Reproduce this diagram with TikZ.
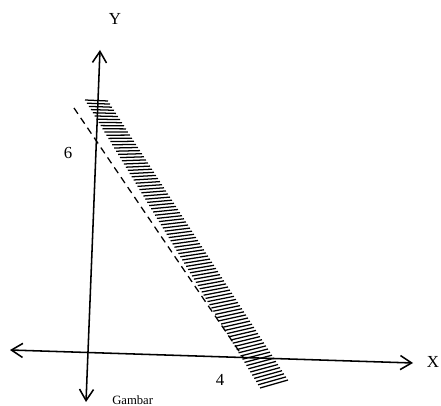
\documentclass[tikz,border=0pt]{standalone}
\usepackage{fontspec}
\setmainfont{Liberation Serif}
\usepackage{tikz}
\usetikzlibrary{arrows.meta, calc}
\tikzset{
  axis/.style={line width=1.1pt,
    {Straight Barb[length=8pt, width=10pt]}-{Straight Barb[length=8pt, width=10pt]}},
  bound/.style={line width=0.9pt, dash pattern=on 5pt off 3.5pt},
  hatch/.style={line width=0.9pt},
  lbl/.style={font=\large, inner sep=0pt},
}
\begin{document}
\begin{tikzpicture}[x=0.025cm, y=-0.025cm]
\useasboundingbox (0,0) rectangle (441,406);

% axes
\coordinate (xl) at (10,350);
\coordinate (xr) at (413,363);
\coordinate (yb) at (86,402);
\coordinate (yt) at (100,50);
\draw[axis] (xl) -- (xr);
\draw[axis] (yb) -- (yt);

\node[lbl] (ylab) at (115,19) {Y};
\node[lbl] (xlab) at (433,362) {X};
\node[lbl] (six) at (68,153) {6};
\node[lbl] (four) at (220,380) {4};
\node[lbl, font=\small, anchor=south west] (cap) at (112,405) {Gambar};

% boundary line
\coordinate (d1) at (74,108);
\coordinate (d2) at (243,357);
\draw[bound] (d1) -- (d2);

% hatched band
\coordinate (hTL) at (85,100);
\coordinate (hBL) at (260,388);
\coordinate (hTR) at (108,101);
\coordinate (hBR) at (288,380);
\foreach \i in {0,...,90}{
  \draw[hatch] ($(hTL)!\i/90!(hBL)$) -- ($(hTR)!\i/90!(hBR)$);
}

\end{tikzpicture}
\end{document}
